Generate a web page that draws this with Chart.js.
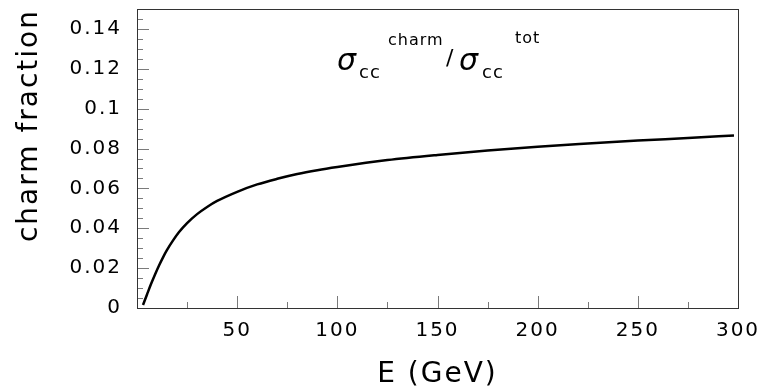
<!DOCTYPE html>
<html>
<head>
<meta charset="utf-8">
<script src="https://cdn.jsdelivr.net/npm/chart.js@4.4.0/dist/chart.umd.min.js"></script>
<style>
  html, body { margin: 0; background: #fff; }
  #wrap { width: 770px; height: 392px; }
</style>
</head>
<body>
<div id="wrap"><canvas id="fraction"></canvas></div>
<script>
// beam energy (GeV) and the charm share of the cc cross section
const energies = [3, 5, 7, 9, 11, 13, 15, 18, 21, 25, 30, 35, 40, 50, 60, 70, 80, 90, 100, 125, 150, 175, 200, 225, 250, 275, 298];
const charmFraction = [0.0015, 0.0068, 0.0120, 0.0168, 0.0213, 0.0254, 0.0291, 0.0339, 0.0381, 0.0426, 0.0471, 0.0507, 0.0537, 0.0583, 0.0620, 0.0648, 0.0672, 0.0691, 0.0707, 0.0742, 0.0768, 0.0790, 0.0809, 0.0825, 0.0840, 0.0853, 0.0866];

const xRange = [0, 300];
const yRange = [0, 0.15];
const xMajor = 50, xMinor = 25;
const yMajor = 0.02, yMinor = 0.005;
const yTitle = 'charm fraction';

const FONT = '"DejaVu Sans", sans-serif';

function isMultiple(v, step) {
  const r = v / step;
  return Math.abs(r - Math.round(r)) < 1e-6;
}

// wide letter spacing for every label on the canvas
const spacing = {
  id: 'spacing',
  beforeInit(chart) { chart.ctx.letterSpacing = '2px'; },
  beforeDraw(chart) { chart.ctx.letterSpacing = '2px'; }
};

// frame box with inward tick marks, y title and the ratio label inside the plot
const frameAndTicks = {
  id: 'frameAndTicks',
  afterDraw(chart) {
    const { ctx, chartArea: a, scales } = chart;
    ctx.save();
    ctx.strokeStyle = '#7a7a7a';
    ctx.lineWidth = 1;
    ctx.beginPath();
    scales.x.ticks.forEach(t => {
      if (t.value <= xRange[0] || t.value >= xRange[1]) return;
      const px = Math.round(scales.x.getPixelForValue(t.value)) + 0.5;
      const len = isMultiple(t.value, xMajor) ? 12 : 6;
      ctx.moveTo(px, a.bottom);
      ctx.lineTo(px, a.bottom - len);
    });
    scales.y.ticks.forEach(t => {
      if (t.value <= yRange[0] || t.value >= yRange[1]) return;
      const py = Math.round(scales.y.getPixelForValue(t.value)) + 0.5;
      const len = isMultiple(t.value, yMajor) ? 12 : 6;
      ctx.moveTo(a.left, py);
      ctx.lineTo(a.left + len, py);
    });
    ctx.stroke();

    ctx.strokeStyle = '#333';
    ctx.strokeRect(Math.round(a.left) + 0.5, Math.round(a.top) + 0.5,
      Math.round(a.right - a.left), Math.round(a.bottom - a.top));

    ctx.fillStyle = '#000';

    // y axis title, rotated and pushed to the top end
    ctx.save();
    ctx.translate(30, a.top);
    ctx.rotate(-Math.PI / 2);
    ctx.font = '28px ' + FONT;
    ctx.textAlign = 'right';
    ctx.textBaseline = 'middle';
    ctx.fillText(yTitle, 0, 0);
    ctx.restore();

    // sigma_cc^charm / sigma_cc^tot
    ctx.textBaseline = 'alphabetic';
    ctx.textAlign = 'left';
    ctx.letterSpacing = '1px';
    const bx = a.left + 200, by = a.top + 61;
    ctx.font = 'italic 30px ' + FONT;
    ctx.fillText('σ', bx, by);
    ctx.font = '18px ' + FONT;
    ctx.fillText('cc', bx + 22, by + 8);
    ctx.font = '16px ' + FONT;
    ctx.fillText('charm', bx + 51, by - 25);
    ctx.font = '22px ' + FONT;
    ctx.fillText('/', bx + 109, by - 5);
    ctx.font = 'italic 30px ' + FONT;
    ctx.fillText('σ', bx + 122, by);
    ctx.font = '18px ' + FONT;
    ctx.fillText('cc', bx + 145, by + 8);
    ctx.font = '16px ' + FONT;
    ctx.fillText('tot', bx + 178, by - 27);
    ctx.restore();
  }
};

new Chart(document.getElementById('fraction'), {
  type: 'line',
  data: {
    datasets: [{
      data: energies.map((e, i) => ({ x: e, y: charmFraction[i] })),
      borderColor: '#000',
      borderWidth: 2.5,
      pointRadius: 0,
      cubicInterpolationMode: 'monotone',
      fill: false
    }]
  },
  options: {
    responsive: true,
    maintainAspectRatio: false,
    animation: false,
    layout: { padding: { top: 9, right: 32, left: 0, bottom: 0 } },
    plugins: { legend: { display: false }, tooltip: { enabled: false } },
    scales: {
      x: {
        type: 'linear',
        min: xRange[0],
        max: xRange[1],
        grid: { display: false, drawTicks: false },
        border: { display: false },
        afterFit: s => {
          s.height = 84;
          s.paddingLeft = 0;
          s.paddingRight = 0;
        },
        ticks: {
          stepSize: xMinor,
          autoSkip: false,
          maxRotation: 0,
          padding: 11,
          color: '#000',
          font: { family: FONT, size: 20 },
          callback: v => (isMultiple(v, xMajor) && v > 0) ? String(v) : ''
        },
        title: {
          display: true,
          text: 'E (GeV)',
          color: '#000',
          font: { family: FONT, size: 28 },
          padding: { top: 0, bottom: 0 }
        }
      },
      y: {
        type: 'linear',
        min: yRange[0],
        max: yRange[1],
        grid: { display: false, drawTicks: false },
        border: { display: false },
        afterFit: s => {
          s.width = 137;
          s.paddingTop = 0;
          s.paddingBottom = 0;
        },
        ticks: {
          stepSize: yMinor,
          autoSkip: false,
          padding: 15,
          color: '#000',
          font: { family: FONT, size: 20 },
          callback: v => isMultiple(v, yMajor) ? String(+v.toFixed(3)) : ''
        }
      }
    }
  },
  plugins: [spacing, frameAndTicks]
});
</script>
</body>
</html>
